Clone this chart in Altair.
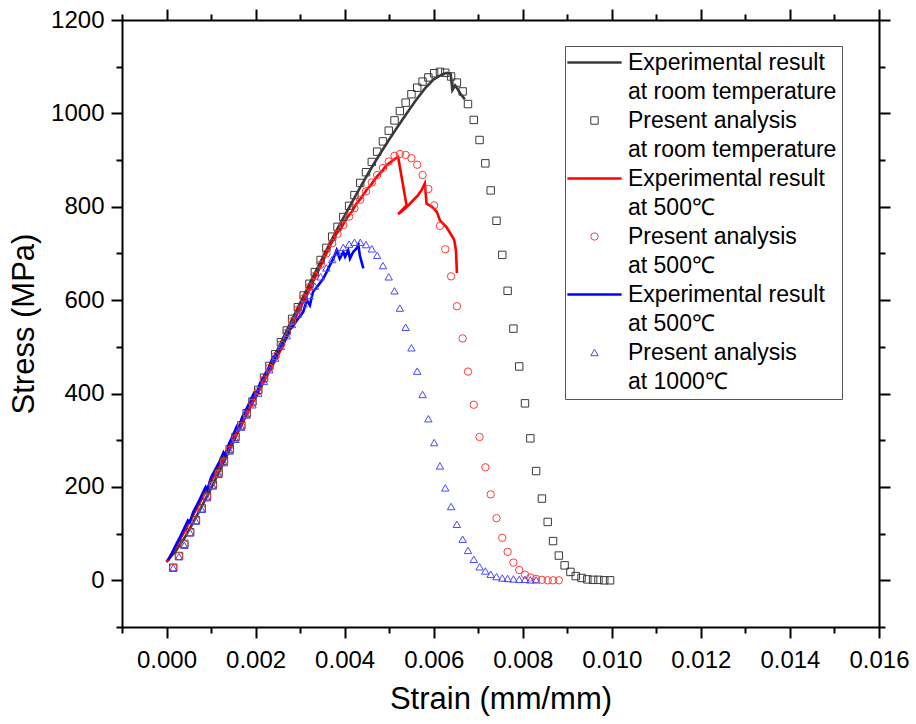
import altair as alt
import pandas as pd

# ---------------- data ----------------
# strain positions of the evenly spaced "present analysis" markers
STRAIN_GRID = [
    0.00015, 0.00028, 0.00040, 0.00053, 0.00066, 0.00079, 0.00091, 0.00104, 0.00117, 0.00129,
    0.00142, 0.00155, 0.00168, 0.00180, 0.00193, 0.00206, 0.00219, 0.00231, 0.00244, 0.00257,
    0.00270, 0.00282, 0.00295, 0.00308, 0.00321, 0.00333, 0.00346, 0.00359, 0.00372, 0.00384,
    0.00397, 0.00410, 0.00422, 0.00435, 0.00448, 0.00461, 0.00473, 0.00486, 0.00499, 0.00512,
    0.00524, 0.00537, 0.00550, 0.00563, 0.00575, 0.00588, 0.00601, 0.00614, 0.00626, 0.00639,
    0.00652, 0.00665, 0.00677, 0.00690, 0.00703, 0.00716, 0.00728, 0.00741, 0.00754, 0.00766,
    0.00779, 0.00792, 0.00805, 0.00817, 0.00830, 0.00843, 0.00856, 0.00868, 0.00881, 0.00894,
    0.00907, 0.00919, 0.00932, 0.00945, 0.00958, 0.00970, 0.00983, 0.00996,
]

# Present analysis at room temperature (squares)
ANA_RT_STRESS = [
    27, 52, 78, 103, 129, 154, 180, 205, 231, 256,
    281, 307, 332, 358, 383, 408, 434, 459, 484, 510,
    535, 560, 585, 610, 635, 660, 686, 712, 736, 757,
    778, 802, 825, 851, 874, 896, 918, 940, 963, 985,
    1005, 1023, 1041, 1055, 1068, 1077, 1086, 1089, 1087, 1079,
    1066, 1047, 1020, 986, 943, 893, 835, 770, 697, 620,
    539, 458, 379, 304, 234, 175, 125, 84, 53, 32,
    18, 9, 5, 2, 1, 1, 0, 0,
]

# Present analysis at 500 C (circles)
ANA_500_STRESS = [
    27, 52, 77, 103, 128, 153, 178, 204, 229, 254,
    279, 304, 330, 355, 380, 405, 430, 455, 480, 505,
    530, 555, 580, 604, 628, 652, 676, 700, 722, 742,
    761, 779, 797, 815, 833, 852, 868, 883, 897, 909,
    913, 911, 904, 890, 868, 838, 803, 759, 709, 651,
    587, 518, 447, 376, 307, 242, 184, 133, 91, 61,
    38, 22, 12, 6, 3, 1, 0, 0, 0,
]

# Present analysis at 1000 C (triangles)
ANA_1000_STRESS = [
    27, 51, 75, 102, 127, 152, 177, 202, 227, 252,
    277, 302, 328, 354, 376, 401, 426, 451, 476, 501,
    524, 548, 570, 592, 610, 630, 650, 669, 687, 703,
    713, 720, 724, 724, 719, 710, 696, 674, 650, 620,
    583, 542, 498, 448, 398, 346, 295, 245, 198, 158,
    120, 88, 64, 45, 29, 20, 13, 8, 5, 4,
    3, 2, 2, 1, 1,
]

# Experimental result at room temperature (dark line)
EXP_RT_STRAIN = [
    0.0, 0.0002, 0.0004, 0.0006, 0.0008, 0.0010, 0.0012, 0.0014, 0.0016, 0.0018,
    0.0020, 0.0022, 0.0024, 0.0026, 0.0028, 0.0030, 0.0032, 0.0034, 0.0036, 0.0038,
    0.0040, 0.0042, 0.0044, 0.0046, 0.0048, 0.0050, 0.0052, 0.0054, 0.0056, 0.0058,
    0.0060, 0.0062, 0.0063, 0.00638, 0.00642, 0.00648, 0.00655, 0.0066, 0.0067,
]
EXP_RT_STRESS = [
    40, 62, 90, 124, 160, 197, 236, 276, 316, 356,
    396, 436, 476, 515, 555, 594, 633, 671, 709, 746,
    781, 816, 850, 883, 914, 944, 973, 1001, 1028, 1053,
    1073, 1084, 1087, 1085, 1050, 1060, 1050, 1042, 1030,
]

# Experimental result at 500 C (red line)
EXP_500_STRAIN = [
    0.0, 0.0002, 0.0004, 0.0006, 0.0008, 0.0010, 0.0012, 0.0014, 0.0016, 0.0018,
    0.0020, 0.0022, 0.0024, 0.0026, 0.00277, 0.0030, 0.00322, 0.00344, 0.00367, 0.00382,
    0.00393, 0.00404, 0.00415, 0.00427, 0.00438, 0.00449, 0.0046, 0.00472, 0.00483, 0.00494,
    0.00505, 0.0052, 0.00539, 0.0052, 0.00532, 0.00543, 0.00554, 0.00565, 0.00573, 0.0058,
    0.00584, 0.00596, 0.00607, 0.00614, 0.00629, 0.0064, 0.00646, 0.0065, 0.00652, 0.00655,
]
EXP_500_STRESS = [
    39, 70, 104, 140, 176, 212, 248, 284, 320, 356,
    392, 428, 464, 500, 537, 583, 626, 669, 716, 743,
    756, 775, 788, 807, 820, 836, 848, 864, 875, 889,
    897, 907, 803, 784, 793, 803, 814, 825, 836, 850,
    807, 800, 789, 771, 756, 739, 729, 707, 661, 661,
]

# Experimental result at 1000 C (blue line)
EXP_1000_STRAIN = [
    0.00004, 0.00012, 0.0002, 0.00028, 0.00036, 0.00044, 0.00048, 0.00052, 0.0006, 0.0007,
    0.0008, 0.00088, 0.00092, 0.001, 0.0011, 0.0012, 0.00128, 0.00132, 0.0014, 0.0015,
    0.00158, 0.00162, 0.0017, 0.0018, 0.0019, 0.00198, 0.00202, 0.0021, 0.0022, 0.0023,
    0.00238, 0.00242, 0.0025, 0.0026, 0.0027, 0.00278, 0.00285, 0.00292, 0.003, 0.00307,
    0.00315, 0.00322, 0.00329, 0.00336, 0.00344, 0.00352, 0.0036, 0.00367, 0.00375, 0.00382,
    0.00389, 0.00397, 0.00401, 0.00408, 0.00412, 0.00419, 0.00427, 0.00431, 0.00434, 0.00438,
    0.00442,
]
EXP_1000_STRESS = [
    43, 58, 74, 88, 104, 120, 128, 124, 146, 164,
    184, 200, 194, 220, 238, 256, 274, 268, 292, 312,
    330, 326, 350, 368, 388, 404, 398, 422, 440, 456,
    476, 470, 490, 506, 520, 538, 546, 556, 566, 575,
    600, 589, 618, 626, 636, 646, 661, 675, 690, 707,
    689, 703, 693, 707, 689, 703, 711, 718, 696, 682,
    668,
]

SERIES_KEYS = ["exp_rt", "ana_rt", "exp_500", "ana_500", "exp_1000", "ana_1000"]
LEGEND_TEXT = [
    ["Experimental result", "at room temperature"],
    ["Present analysis", "at room temperature"],
    ["Experimental result", "at 500℃"],
    ["Present analysis", "at 500℃"],
    ["Experimental result", "at 500℃"],
    ["Present analysis", "at 1000℃"],
]
SERIES_COLORS = ["#3a3a3a", "#3a3a3a", "#ff0000", "#ff3b3b", "#0000ff", "#4848ff"]
LINE_SYMBOL = "M-7.3,-0.2H7.3M-7.3,0H7.3M-7.3,0.2H7.3"
SERIES_SHAPES = [LINE_SYMBOL, "square", LINE_SYMBOL, "circle", LINE_SYMBOL, "triangle-up"]

X_TICKS = [-0.001, 0.0, 0.001, 0.002, 0.003, 0.004, 0.005, 0.006, 0.007, 0.008,
           0.009, 0.010, 0.011, 0.012, 0.013, 0.014, 0.015, 0.016]
Y_TICKS = [-100, 0, 100, 200, 300, 400, 500, 600, 700, 800, 900, 1000, 1100, 1200]
X_DOMAIN = [-0.001, 0.016]
Y_DOMAIN = [-100, 1200]

FONT = "Liberation Sans"

# ---------------- tables ----------------
line_rows = []
for key, xs, ys in [("exp_rt", EXP_RT_STRAIN, EXP_RT_STRESS),
                    ("exp_500", EXP_500_STRAIN, EXP_500_STRESS),
                    ("exp_1000", EXP_1000_STRAIN, EXP_1000_STRESS)]:
    for i, (x, y) in enumerate(zip(xs, ys)):
        line_rows.append({"series": key, "strain": x, "stress": y, "idx": i})
lines_df = pd.DataFrame(line_rows)

point_rows = []
for key, ys in [("ana_rt", ANA_RT_STRESS), ("ana_500", ANA_500_STRESS),
                ("ana_1000", ANA_1000_STRESS)]:
    for x, y in zip(STRAIN_GRID, ys):
        point_rows.append({"series": key, "strain": x, "stress": y})
points_df = pd.DataFrame(point_rows)

# ---------------- scales / axes ----------------
xscale = alt.Scale(domain=X_DOMAIN, nice=False, zero=False)
yscale = alt.Scale(domain=Y_DOMAIN, nice=False, zero=False)
color_scale = alt.Scale(domain=SERIES_KEYS, range=SERIES_COLORS)
shape_scale = alt.Scale(domain=SERIES_KEYS, range=SERIES_SHAPES)

x_major = "abs(round(datum.value * 1000)) % 2 == 0"
y_major = "round(datum.value) % 200 == 0 && datum.value >= 0"

common_axis = dict(
    grid=False, domainColor="black", domainWidth=2, tickColor="black", tickWidth=2,
    labelFont=FONT, labelFontSize=24, labelColor="black", labelFlush=False,
    labelOverlap=False, titleFont=FONT, titleFontSize=31, titleFontWeight="normal",
    titleColor="black",
)

def x_axis(orient, show):
    kw = dict(common_axis)
    kw.update(orient=orient, values=X_TICKS,
              tickSize={"condition": {"test": x_major, "value": 11}, "value": 6})
    if show:
        kw.update(title="Strain (mm/mm)", labels=True, labelPadding=10, titlePadding=12,
                  labelExpr=f"{x_major} ? format(datum.value, '.3f') : ''")
    else:
        kw.update(title=None, labels=False)
    return alt.Axis(**kw)

def y_axis(orient, show):
    kw = dict(common_axis)
    kw.update(orient=orient, values=Y_TICKS,
              tickSize={"condition": {"test": y_major, "value": 11}, "value": 6})
    if show:
        kw.update(title="Stress (MPa)", labels=True, labelPadding=7, titlePadding=10,
                  labelExpr=f"{y_major} ? format(datum.value, 'd') : ''")
    else:
        kw.update(title=None, labels=False)
    return alt.Axis(**kw)

label_expr = ""
for key, txt in zip(SERIES_KEYS, LEGEND_TEXT):
    label_expr += f"datum.label == '{key}' ? ['{txt[0]}', '{txt[1]}'] : "
label_expr += "datum.label"

legend = alt.Legend(
    title=None, orient="none", legendX=443, legendY=26, direction="vertical",
    padding=5, strokeColor="#555555", fillColor="white",
    symbolSize=55, symbolStrokeWidth=1, symbolOffset=13,
    labelOffset=22, labelFont=FONT, labelFontSize=23, labelColor="black",
    labelLimit=600, labelExpr=label_expr, rowPadding=5, labelBaseline="middle",
)

lines = alt.Chart(lines_df).mark_line(strokeWidth=2.6).encode(
    x=alt.X("strain:Q", scale=xscale, axis=x_axis("bottom", True)),
    y=alt.Y("stress:Q", scale=yscale, axis=y_axis("left", True)),
    color=alt.Color("series:N", scale=color_scale, legend=None),
    detail="series:N",
    order=alt.Order("idx:Q"),
)

points = alt.Chart(points_df).mark_point(filled=False, size=55, strokeWidth=1, opacity=1).encode(
    x=alt.X("strain:Q", scale=xscale, axis=None),
    y=alt.Y("stress:Q", scale=yscale, axis=None),
    color=alt.Color("series:N", scale=color_scale, legend=legend),
    shape=alt.Shape("series:N", scale=shape_scale, legend=legend),
)

frame = alt.Chart(points_df).mark_point(opacity=0).encode(
    x=alt.X("strain:Q", scale=xscale, axis=x_axis("top", False)),
    y=alt.Y("stress:Q", scale=yscale, axis=y_axis("right", False)),
)

chart = alt.layer(lines, points, frame).resolve_scale(
    x="independent", y="independent", color="independent", shape="independent"
).resolve_legend(
    color="independent", shape="independent"
).properties(
    width=757, height=607,
    padding={"left": 122, "top": 20, "right": 37, "bottom": 97},
    autosize=alt.AutoSizeParams(type="none"),
    background="white",
).configure_view(stroke=None).configure(
    style={"guide-label": {"lineHeight": 29}}
)

chart.save("out.html", embed_options={"renderer": "svg", "actions": False})
